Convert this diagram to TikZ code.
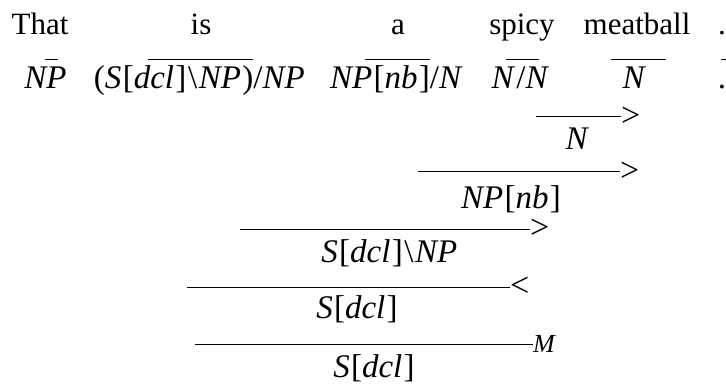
\documentclass[tikz,border=0pt]{standalone}
\usepackage{fontspec}
\setmainfont{Liberation Serif}
\newcommand{\cv}[1]{\textit{#1}\kern0.04em}
\newcommand{\bsl}{\kern0.05em\textbackslash\kern0.05em}
\begin{document}
\begin{tikzpicture}[x=1pt,y=-1pt,
  txt/.style={font=\fontsize{31}{36}\selectfont, inner sep=0pt, anchor=base},
  cat/.style={font=\fontsize{33}{38}\selectfont, inner sep=0pt, anchor=base},
  rule/.style={line width=1pt, draw=black},
  comb/.style={font=\fontsize{34}{38}\selectfont, inner sep=0pt, anchor=west},
  mlbl/.style={font=\fontsize{26}{30}\selectfont\itshape, inner sep=0pt, anchor=west}]
\useasboundingbox (0,0) rectangle (726,385);
% words
\node[txt] (w1) at (40,35) {That};
\node[txt] (w2) at (201,35) {is};
\node[txt] (w3) at (398,35) {a};
\node[txt] (w4) at (522,35) {spicy};
\node[txt] (w5) at (637,35) {meatball};
\node[txt] (w6) at (722,35) {.};
% lexical bars
\coordinate (l1a) at (45,60);  \coordinate (l1b) at (58,60);
\coordinate (l2a) at (148,60); \coordinate (l2b) at (253,60);
\coordinate (l3a) at (365,60); \coordinate (l3b) at (430,60);
\coordinate (l4a) at (506,60); \coordinate (l4b) at (539,60);
\coordinate (l5a) at (611,60); \coordinate (l5b) at (666,60);
\coordinate (l6a) at (721,60); \coordinate (l6b) at (726,60);
\foreach \i in {1,...,6} \draw[rule] (l\i a) -- (l\i b);
% categories
\node[cat] (c1) at (46,89) {\cv{NP}};
\node[cat] (c2) at (200,89) {(\cv{S}[\cv{dcl}]\bsl\cv{NP})/\cv{NP}};
\node[cat] (c3) at (397,89) {\cv{NP}[\cv{nb}]/\cv{N}};
\node[cat] (c4) at (521,89) {\cv{N}/\cv{N}};
\node[cat] (c5) at (635,89) {\cv{N}};
\node[cat] (c6) at (722,89) {.};
% derivation 1: N
\coordinate (d1a) at (536,117); \coordinate (d1b) at (621,117);
\draw[rule] (d1a) -- (d1b);
\node[comb] (o1) at (d1b) {>};
\node[cat] (r1) at (578,150) {\cv{N}};
% derivation 2: NP[nb]
\coordinate (d2a) at (418,172); \coordinate (d2b) at (620,172);
\draw[rule] (d2a) -- (d2b);
\node[comb] (o2) at (d2b) {>};
\node[cat] (r2) at (511,208) {\cv{NP}[\cv{nb}]};
% derivation 3: S[dcl]\NP
\coordinate (d3a) at (240,229); \coordinate (d3b) at (530,229);
\draw[rule] (d3a) -- (d3b);
\node[comb] (o3) at (d3b) {>};
\node[cat] (r3) at (390,262) {\cv{S}[\cv{dcl}]\bsl\cv{NP}};
% derivation 4: S[dcl]
\coordinate (d4a) at (187,287); \coordinate (d4b) at (510,287);
\draw[rule] (d4a) -- (d4b);
\node[comb] (o4) at (d4b) {<};
\node[cat] (r4) at (357,318) {\cv{S}[\cv{dcl}]};
% derivation 5: S[dcl] (M)
\coordinate (d5a) at (195,344); \coordinate (d5b) at (533,344);
\draw[rule] (d5a) -- (d5b);
\node[mlbl] (o5) at (d5b) {M};
\node[cat] (r5) at (374,377) {\cv{S}[\cv{dcl}]};
\end{tikzpicture}
\end{document}
